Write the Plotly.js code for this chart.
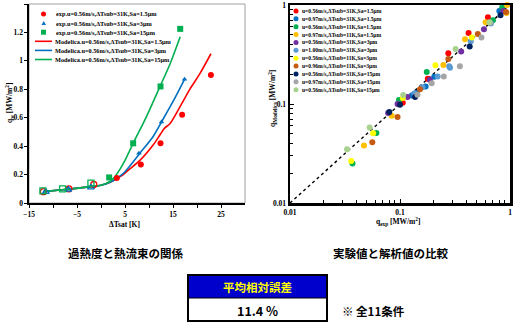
<!DOCTYPE html>
<html><head><meta charset="utf-8">
<script src="https://cdn.plot.ly/plotly-3.0.1.min.js"></script>
<style>html,body{margin:0;padding:0;background:#fff;}#chart{width:514px;height:324px;}</style>
</head><body><div id="chart"></div>
<script>
// ---------- Left chart: ΔTsat vs q_w ----------
// experimental (filled = saturated boiling, open = subcooled region)
const expA_x = [3.3, 8.3, 12.4, 16.9, 22.9];            // Sa=1.5μm
const expA_y = [0.175, 0.27, 0.42, 0.62, 0.90];
const expA_openX = [-12.0, -6.7, -1.5];
const expA_openY = [0.08, 0.10, 0.13];
const expB_x = [7.9, 12.6, 17.4];                       // Sa=3μm
const expB_y = [0.35, 0.57, 0.87];
const expB_openX = [-11.5, -6.8, -2.1];
const expB_openY = [0.078, 0.095, 0.11];
const expC_x = [1.7, 6.7, 12.4, 16.5];                  // Sa=15μm
const expC_y = [0.18, 0.42, 0.82, 1.225];
const expC_openX = [-12.1, -8.0, -2.1];
const expC_openY = [0.085, 0.10, 0.14];
// Modelica
const modA_x = [-12, -7, -2, 0, 2, 3, 4, 5, 6, 8.1, 10.9, 12.3, 13.2, 14.4, 16.5, 18.5, 20.6, 22.9];
const modA_y = [0.08, 0.097, 0.115, 0.125, 0.148, 0.165, 0.185, 0.21, 0.24, 0.30, 0.41, 0.48, 0.525, 0.56, 0.68, 0.80, 0.91, 1.05];
const modB_x = [-12, -7, -2, 0, 2, 3, 4, 5, 6, 8.1, 10.9, 12.6, 15.1, 17.4];
const modB_y = [0.08, 0.097, 0.115, 0.125, 0.148, 0.167, 0.19, 0.22, 0.26, 0.35, 0.47, 0.57, 0.72, 0.87];
const modC_x = [-12, -7, -2, 0, 2, 3, 4, 5, 6.7, 9.5, 12.3, 14.4, 16.5];
const modC_y = [0.08, 0.097, 0.115, 0.125, 0.155, 0.19, 0.24, 0.30, 0.42, 0.61, 0.82, 0.98, 1.17];
const leftNames = [
  "exp.u=0.56m/s,ΔTsub=31K,Sa=1.5μm",
  "exp.u=0.56m/s,ΔTsub=31K,Sa=3μm",
  "exp.u=0.56m/s,ΔTsub=31K,Sa=15μm",
  "Modelica.u=0.56m/s,ΔTsub=31K,Sa=1.5μm",
  "Modelica.u=0.56m/s,ΔTsub=31K,Sa=3μm",
  "Modelica.u=0.56m/s,ΔTsub=31K,Sa=15μm"
];
const leftColors = ["#FF0000", "#0070C0", "#00B050", "#FF0000", "#0070C0", "#00B050"];
const leftXTicks = [-15, -5, 5, 15, 25];
const leftYTicks = [0, 0.2, 0.4, 0.6, 0.8, 1, 1.2, 1.4];

// ---------- Right chart: q_exp vs q_Modelica ----------
const s1x = [0.106, 0.179, 0.275, 0.42, 0.63];            const s1y = [0.103, 0.18, 0.325, 0.52, 0.75];
const s2x = [0.128, 0.142, 0.171, 0.205, 0.80];           const s2y = [0.122, 0.13, 0.15, 0.189, 0.87];
const s3x = [0.037, 0.061, 0.098, 0.175, 0.70, 0.85];     const s3y = [0.025, 0.051, 0.11, 0.21, 0.70, 0.95];
const s4x = [0.047, 0.084, 0.248, 0.39, 0.60, 0.93, 0.94];const s4y = [0.038, 0.076, 0.248, 0.45, 0.67, 0.83, 1.0];
const s5x = [0.078, 0.095, 0.117, 0.187, 0.36, 0.58, 0.87];const s5y = [0.081, 0.10, 0.118, 0.176, 0.34, 0.57, 0.87];
const s6x = [0.135, 0.16, 0.22, 0.28, 0.285, 0.44, 0.67]; const s6y = [0.128, 0.148, 0.19, 0.24, 0.232, 0.43, 0.65];
const s7x = [0.036, 0.057, 0.106, 0.21, 0.45];            const s7y = [0.0266, 0.0506, 0.115, 0.246, 0.47];
const s8x = [0.056, 0.095, 0.152, 0.275, 0.51, 0.92];     const s8y = [0.041, 0.074, 0.141, 0.285, 0.51, 0.85];
const s9x = [0.08, 0.10, 0.137, 0.43, 0.82];              const s9y = [0.083, 0.098, 0.118, 0.38, 0.79];
const s10x = [0.144, 0.194, 0.25, 0.35, 0.55, 0.66];      const s10y = [0.124, 0.162, 0.19, 0.24, 0.47, 0.66];
const s11x = [0.033, 0.053, 0.107, 0.32, 0.65];           const s11y = [0.035, 0.058, 0.123, 0.36, 0.67];
const rightNames = [
  "u=0.56m/s,ΔTsub=31K,Sa=1.5μm", "u=0.97m/s,ΔTsub=31K,Sa=1.5μm", "u=0.56m/s,ΔTsub=11K,Sa=1.5μm",
  "u=0.97m/s,ΔTsub=11K,Sa=1.5μm", "u=0.56m/s,ΔTsub=31K,Sa=3μm", "u=1.00m/s,ΔTsub=31K,Sa=3μm",
  "u=0.56m/s,ΔTsub=11K,Sa=3μm", "u=0.96m/s,ΔTsub=11K,Sa=3μm", "u=0.56m/s,ΔTsub=31K,Sa=15μm",
  "u=0.97m/s,ΔTsub=31K,Sa=15μm", "u=0.56m/s,ΔTsub=11K,Sa=15μm"
];
const rightColors = ["#FF0000", "#0070C0", "#00B050", "#FFC000", "#7030A0", "#5B9BD5",
                     "#FFFF00", "#C55A11", "#002060", "#A5A5A5", "#A9D18E"];
const rightX = [s1x, s2x, s3x, s4x, s5x, s6x, s7x, s8x, s9x, s10x, s11x];
const rightY = [s1y, s2y, s3y, s4y, s5y, s6y, s7y, s8y, s9y, s10y, s11y];
const diagX = [0.01, 1];
const diagY = [0.01, 1];
const rightTicks = [0.01, 0.1, 1];
const rightTickText = ["0.01", "0.1", "1"];

// Summary
const bottomTitles = ["過熱度と熱流束の関係", "実験値と解析値の比較"];
const errLabel = "平均相対誤差";
const errValue = "11.4 %";
const noteText = "※ 全11条件";

// ---------- build ----------
const W = 514, H = 324;
const px = v => v / W;
const py = v => 1 - v / H;
const serif = {family: "Liberation Serif, Times New Roman, serif", color: "#000", weight: "bold"};
const jp = {family: "Noto Sans CJK JP, sans-serif", weight: "bold"};

const traces = [];
function mk(x, y, sym, color, size, xa, ya, open) {
  return {x, y, type: "scatter", mode: "markers", xaxis: xa, yaxis: ya, showlegend: false, cliponaxis: false,
    marker: {symbol: sym, color: color, size: size, line: {width: open ? 1.3 : 0, color: color}}};
}
function ln(x, y, color) {
  return {x, y, type: "scatter", mode: "lines", xaxis: "x", yaxis: "y", showlegend: false,
    line: {color, width: 1.6, shape: "spline", smoothing: 0.8}};
}
traces.push(ln(modA_x, modA_y, leftColors[3]));
traces.push(ln(modB_x, modB_y, leftColors[4]));
traces.push(ln(modC_x, modC_y, leftColors[5]));
traces.push(mk(expA_x, expA_y, "circle", leftColors[0], 6, "x", "y"));
traces.push(mk(expA_openX, expA_openY, "circle-open", leftColors[0], 6, "x", "y", true));
traces.push(mk(expB_x, expB_y, "triangle-up", leftColors[1], 5, "x", "y"));
traces.push(mk(expB_openX, expB_openY, "triangle-up-open", leftColors[1], 6, "x", "y", true));
traces.push(mk(expC_x, expC_y, "square", leftColors[2], 6, "x", "y"));
traces.push(mk(expC_openX, expC_openY, "square-open", leftColors[2], 6, "x", "y", true));

traces.push({x: diagX, y: diagY, type: "scatter", mode: "lines", xaxis: "x2", yaxis: "y2", showlegend: false,
  line: {color: "#000", width: 1.4, dash: "dot"}});
for (let i = 0; i < rightNames.length; i++) {
  const t = mk(rightX[i], rightY[i], "circle", rightColors[i], 6, "x2", "y2");
  t.name = rightNames[i];
  traces.push(t);
}

const shapes = [];
const annotations = [];
function ann(x, y, text, font, opts) {
  annotations.push(Object.assign({xref: "paper", yref: "paper", x: px(x), y: py(y), text, showarrow: false,
    xanchor: "center", yanchor: "middle", font}, opts || {}));
}
// left chart thin border
shapes.push({type: "rect", xref: "paper", yref: "paper", x0: px(29), x1: px(245), y0: py(203), y1: py(4),
  line: {color: "#888", width: 0.8}, layer: "below"});

// left legend
for (let i = 0; i < leftNames.length; i++) {
  const yy = 14 + i * 9.1;
  const c = leftColors[i];
  if (i === 0) shapes.push({type: "circle", xref: "paper", yref: "paper", x0: px(41), x1: px(46), y0: py(yy + 2.5), y1: py(yy - 2.5), fillcolor: c, line: {width: 0}});
  else if (i === 1) shapes.push({type: "path", xref: "paper", yref: "paper",
    path: `M ${px(41.5)} ${py(yy + 2)} L ${px(46)} ${py(yy + 2)} L ${px(43.75)} ${py(yy - 2.2)} Z`, fillcolor: c, line: {width: 0}});
  else if (i === 2) shapes.push({type: "rect", xref: "paper", yref: "paper", x0: px(41), x1: px(46), y0: py(yy + 2.5), y1: py(yy - 2.5), fillcolor: c, line: {width: 0}});
  else shapes.push({type: "line", xref: "paper", yref: "paper", x0: px(35), x1: px(52), y0: py(yy), y1: py(yy), line: {color: c, width: 1.6}});
  ann(i < 3 ? 53.5 : 52.5, yy, leftNames[i], Object.assign({size: 6.3}, serif), {xanchor: "left"});
}
// right legend
for (let i = 0; i < rightNames.length; i++) {
  const yy = 11 + i * 7.87;
  shapes.push({type: "circle", xref: "paper", yref: "paper", x0: px(293.5), x1: px(298.5), y0: py(yy + 2.5), y1: py(yy - 2.5),
    fillcolor: rightColors[i], line: {width: 0}});
  ann(299.5, yy, rightNames[i], Object.assign({size: 5.6}, serif), {xanchor: "left"});
}
// axis titles
ann(124, 224, "ΔTsat [K]", Object.assign({size: 7.5}, serif));
ann(9, 103, "q<sub>w</sub> [MW/m<sup>2</sup>]", Object.assign({size: 7.5}, serif), {textangle: -90});
ann(398, 221, "q<sub>exp</sub> [MW/m<sup>2</sup>]", Object.assign({size: 7.5}, serif));
ann(272, 99, "q<sub>Modelica</sub> [MW/m<sup>2</sup>]", Object.assign({size: 7.5}, serif), {textangle: -90});
// bottom titles
ann(125, 253, bottomTitles[0], Object.assign({size: 11.5, color: "#000"}, jp));
ann(390, 253, bottomTitles[1], Object.assign({size: 11.5, color: "#000"}, jp));
// summary box
shapes.push({type: "rect", xref: "paper", yref: "paper", x0: px(188), x1: px(327), y0: py(298), y1: py(275),
  fillcolor: "#0000CC", line: {width: 0}});
shapes.push({type: "rect", xref: "paper", yref: "paper", x0: px(188), x1: px(327), y0: py(321), y1: py(275),
  fillcolor: "rgba(0,0,0,0)", line: {color: "#000", width: 2}});
shapes.push({type: "line", xref: "paper", yref: "paper", x0: px(188), x1: px(327), y0: py(298), y1: py(298),
  line: {color: "#000", width: 1.2}});
ann(257.5, 286.5, errLabel, Object.assign({size: 11.5, color: "#FFFF00"}, jp));
ann(257.5, 310, errValue, Object.assign({size: 12.5, color: "#000"}, jp));
ann(340, 310.5, noteText, Object.assign({size: 11.5, color: "#000"}, jp), {xanchor: "left"});

const tickFont = Object.assign({size: 7.5}, serif);
const layout = {
  width: W, height: H, margin: {l: 0, r: 0, t: 0, b: 0}, paper_bgcolor: "#fff", plot_bgcolor: "#fff",
  showlegend: false,
  xaxis: {domain: [px(29), px(245)], range: [-15, 30], tickmode: "array", tickvals: leftXTicks, ticks: "outside", ticklen: 3,
    tickcolor: "#000", showline: true, linecolor: "#000", linewidth: 1.6, showgrid: false, zeroline: false, tickfont: tickFont,
    minor: {tickmode: "array", tickvals: [-10, 0, 10, 20], ticks: "outside", ticklen: 3, tickcolor: "#000"}, anchor: "y", fixedrange: true},
  yaxis: {domain: [py(203), py(4)], range: [0, 1.4], tickmode: "array", tickvals: leftYTicks, ticks: "outside", ticklen: 3,
    tickcolor: "#000", showline: true, linecolor: "#000", linewidth: 1.6, showgrid: false, zeroline: false, tickfont: tickFont,
    anchor: "x", fixedrange: true},
  xaxis2: {type: "log", domain: [px(290), px(510)], range: [-2, 0], tickmode: "array", tickvals: rightTicks, ticktext: rightTickText,
    ticks: "inside", ticklen: 4, tickcolor: "#000", showline: true, mirror: true, linecolor: "#000", linewidth: 2.5, showgrid: false,
    zeroline: false, tickfont: tickFont, anchor: "y2",
    minor: {tickmode: "array", tickvals: [0.02,0.03,0.04,0.05,0.06,0.07,0.08,0.09,0.2,0.3,0.4,0.5,0.6,0.7,0.8,0.9], ticks: "inside", ticklen: 3, tickcolor: "#000"}},
  yaxis2: {type: "log", domain: [py(203), py(5)], range: [-2, 0], tickmode: "array", tickvals: rightTicks, ticktext: rightTickText,
    ticks: "inside", ticklen: 4, tickcolor: "#000", showline: true, mirror: true, linecolor: "#000", linewidth: 2.5, showgrid: false,
    zeroline: false, tickfont: tickFont, anchor: "x2",
    minor: {tickmode: "array", tickvals: [0.02,0.03,0.04,0.05,0.06,0.07,0.08,0.09,0.2,0.3,0.4,0.5,0.6,0.7,0.8,0.9], ticks: "inside", ticklen: 3, tickcolor: "#000"}},
  shapes, annotations
};
Plotly.newPlot("chart", traces, layout, {staticPlot: true, displayModeBar: false});
</script></body></html>
